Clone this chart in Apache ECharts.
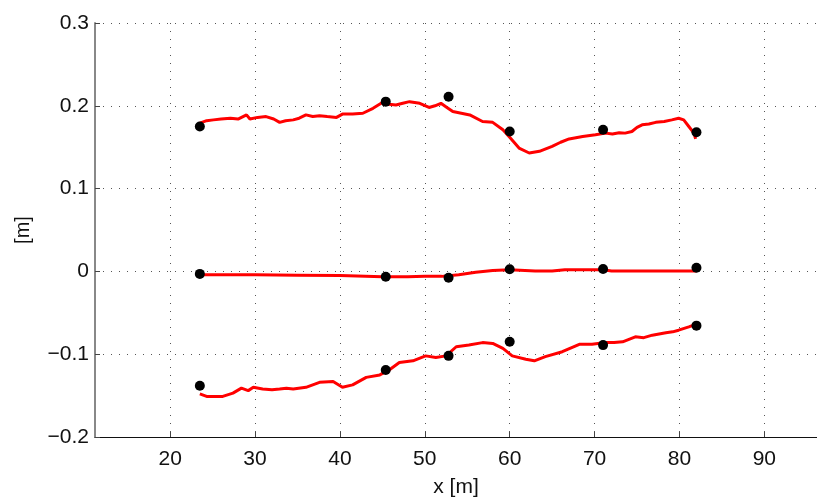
<!DOCTYPE html>
<html>
<head>
<meta charset="utf-8">
<script src="https://cdn.jsdelivr.net/npm/echarts@6/dist/echarts.min.js"></script>
<style>
  html, body { margin: 0; padding: 0; background: #fff; }
  #main { width: 817px; height: 497px; }
</style>
</head>
<body>
<div id="main"></div>
<script>
// measured points (black dots)
var dotX = [23.5, 45.4, 52.8, 60.0, 71.0, 82.0];
var dotTop = [0.175, 0.205, 0.211, 0.169, 0.171, 0.168];
var dotMid = [-0.003, -0.0065, -0.0076, 0.0025, 0.003, 0.0045];
var dotBot = [-0.138, -0.119, -0.102, -0.085, -0.089, -0.0655];

// profile lines (red)
var topX = [23.5, 24.3, 25.1, 26.0, 27.1, 28.0, 29.0, 29.4, 30.3, 31.3, 32.2, 32.9, 33.6, 34.5, 35.2, 36.0, 36.8, 37.6, 38.5, 39.6, 40.3,
  41.5, 42.7, 43.9, 45.0, 45.8, 46.6, 47.4, 48.2, 49.4, 50.5, 51.2, 51.9, 52.6, 53.3, 54.3, 55.3, 56.8, 58.0, 59.2, 60.0, 61.1, 62.3,
  63.5, 65.0, 66.0, 67.0, 68.6, 70.1, 71.3, 72.1, 72.9, 73.6, 74.4, 75.0, 75.6, 76.4, 77.2, 78.2, 79.1, 79.9, 80.5, 81.1, 81.7, 81.9];
var topY = [0.179, 0.182, 0.183, 0.184, 0.185, 0.184, 0.189, 0.184, 0.186, 0.187, 0.184, 0.180, 0.182, 0.183, 0.185, 0.189, 0.187, 0.188,
  0.187, 0.186, 0.190, 0.190, 0.191, 0.197, 0.204, 0.202, 0.201, 0.203, 0.205, 0.203, 0.198, 0.200, 0.203, 0.198, 0.193, 0.191, 0.189,
  0.181, 0.180, 0.171, 0.162, 0.149, 0.143, 0.145, 0.151, 0.156, 0.160, 0.163, 0.165, 0.167, 0.166, 0.1675, 0.167, 0.169, 0.174, 0.177,
  0.178, 0.180, 0.181, 0.183, 0.185, 0.183, 0.175, 0.167, 0.160];

var midX = [23.5, 30, 35, 40, 45, 48, 50, 52, 54, 56, 58, 60, 63, 65, 66.5, 71, 72, 75, 78, 82];
var midY = [-0.004, -0.004, -0.0045, -0.005, -0.0065, -0.0065, -0.006, -0.006, -0.004, -0.001, 0.001, 0.002,
  0.0005, 0.0005, 0.002, 0.002, 0.0005, 0.0005, 0.0005, 0.0005];

var botX = [23.5, 24.3, 26.2, 27.4, 28.4, 29.2, 29.8, 30.9, 32.0, 32.9, 33.7, 34.5, 36.0, 37.6, 39.2, 40.3, 41.5, 43.1,
  44.7, 45.8, 47.0, 48.6, 50.1, 51.3, 52.5, 53.7, 55.2, 56.8, 58.0, 59.2, 60.3, 61.9, 62.9, 64.2, 66.2,
  68.2, 69.7, 71.3, 72.3, 73.3, 74.8, 75.8, 76.8, 78.4, 79.2, 79.9, 81.1, 81.9];
var botY = [-0.148, -0.151, -0.151, -0.147, -0.141, -0.144, -0.140, -0.142, -0.143, -0.142, -0.141, -0.142, -0.140, -0.134, -0.133,
  -0.140, -0.137, -0.128, -0.125, -0.119, -0.110, -0.108, -0.102, -0.104, -0.102, -0.091, -0.089, -0.086, -0.087, -0.093, -0.102,
  -0.106, -0.108, -0.103, -0.097, -0.088, -0.088, -0.086, -0.086, -0.085, -0.079, -0.080, -0.077, -0.074, -0.073, -0.071, -0.067, -0.064];

function pairs(xs, ys) {
  return xs.map(function (x, i) { return [x, ys[i]]; });
}

var font = 'Liberation Sans, Arial, Helvetica, sans-serif';
var gridLine = { show: true, lineStyle: { color: '#555', width: 1, type: [1, 7] } };

var chart = echarts.init(document.getElementById('main'));

function lineSeries(xs, ys) {
  return {
    type: 'line', data: pairs(xs, ys), showSymbol: false, symbol: 'none',
    lineStyle: { color: '#f00', width: 3 }, z: 3, silent: true, animation: false
  };
}
function dotSeries(ys) {
  return {
    type: 'scatter', data: pairs(dotX, ys), symbolSize: 10,
    itemStyle: { color: '#000', opacity: 1 }, z: 4, silent: true, animation: false
  };
}

chart.setOption({
  animation: false,
  grid: { left: 95, right: 0, top: 23, bottom: 60, outerBoundsMode: 'none', containLabel: false },
  xAxis: {
    type: 'value', min: 11.15, max: 96.2, splitNumber: 8,
    name: 'x [m]', nameLocation: 'middle', nameGap: 40,
    nameTextStyle: { fontFamily: font, fontSize: 21, color: '#111' },
    axisLine: { onZero: false, lineStyle: { color: '#111', width: 1 } },
    axisTick: { inside: true, length: 5, lineStyle: { color: '#444' } },
    axisLabel: {
      fontFamily: font, fontSize: 21, color: '#111', margin: 12,
      showMinLabel: false, showMaxLabel: false,
      formatter: function (v) { return (Math.abs(v % 10) < 1e-6) ? String(v) : ''; }
    },
    splitLine: gridLine
  },
  yAxis: {
    type: 'value', min: -0.2, max: 0.3, interval: 0.1,
    name: '[m]', nameLocation: 'middle', nameGap: 62, nameRotate: 90,
    nameTextStyle: { fontFamily: font, fontSize: 20, color: '#111' },
    axisLine: { show: true, onZero: false, lineStyle: { color: '#888', width: 2 } },
    axisTick: { show: true, inside: true, length: 5, lineStyle: { color: '#444' } },
    axisLabel: {
      fontFamily: font, fontSize: 21, color: '#111', margin: 6,
      formatter: function (v) {
        var s = (Math.round(v * 10) / 10).toString();
        return s.replace('-', '\u2212');
      }
    },
    splitLine: gridLine
  },
  series: [
    lineSeries(topX, topY), lineSeries(midX, midY), lineSeries(botX, botY),
    dotSeries(dotTop), dotSeries(dotMid), dotSeries(dotBot)
  ]
});
</script>
</body>
</html>
